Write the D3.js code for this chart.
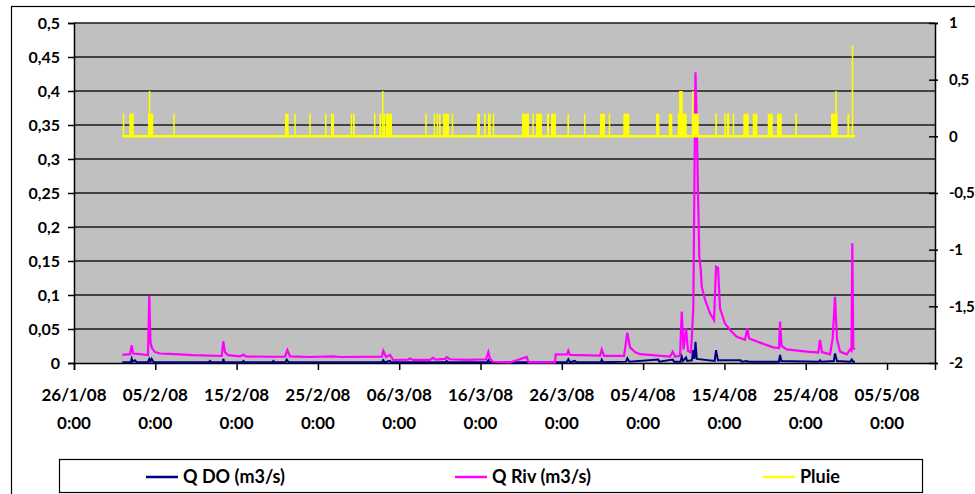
<!DOCTYPE html>
<html>
<head>
<meta charset="utf-8">
<script src="https://cdn.jsdelivr.net/npm/d3@7"></script>
<style>
  body { margin: 0; background: #fff; }
  svg { display: block; font-family: Lato, "Open Sans", sans-serif; font-weight: bold; }
</style>
</head>
<body>
<svg id="chart" width="975" height="494"></svg>
<script>
// days counted from 26/1/08 0:00
const startDate = Date.UTC(2008, 0, 26);
const tickDays = [0, 10, 20, 30, 40, 50, 60, 70, 80, 90, 100];
const leftTicks = [0, 0.05, 0.1, 0.15, 0.2, 0.25, 0.3, 0.35, 0.4, 0.45, 0.5];
const rightTicks = [-2, -1.5, -1, -0.5, 0, 0.5, 1];
const seriesNames = ['Q DO (m3/s)', 'Q Riv (m3/s)', 'Pluie'];

// Q Riv (m3/s): [day, value]
const qRiv = [
  [5.94, 0.012], [6.89, 0.013], [7.10, 0.026], [7.26, 0.014], [8.12, 0.013], [9.10, 0.0118],
  [9.26, 0.0985], [9.41, 0.03], [9.59, 0.022], [9.96, 0.016], [10.58, 0.014], [11.81, 0.0135],
  [14.64, 0.0115], [18.17, 0.0103], [18.36, 0.032], [18.57, 0.016], [18.94, 0.0115],
  [20.42, 0.0098], [20.82, 0.012], [21.16, 0.0098], [23.70, 0.0092], [25.95, 0.0095],
  [26.24, 0.019], [26.57, 0.0098], [29.03, 0.0088], [31.86, 0.0098], [32.72, 0.0088],
  [37.85, 0.0093], [38.04, 0.018], [38.38, 0.009], [38.87, 0.012], [39.27, 0.0044],
  [41.08, 0.005], [41.33, 0.0065], [41.70, 0.0045], [43.79, 0.0046], [44.16, 0.0075],
  [44.53, 0.005], [45.63, 0.006], [45.84, 0.0085], [46.25, 0.0055], [48.30, 0.0045],
  [50.68, 0.0055], [50.96, 0.016], [51.17, 0.006], [51.54, 0.0018], [53.63, 0.0008],
  [55.68, 0.009], [55.9, 0.001], [59.16, 0.001], [59.25, 0.0128], [60.64, 0.0125],
  [60.80, 0.018], [61.0, 0.012], [64.70, 0.011], [64.91, 0.020], [65.19, 0.0105],
  [67.65, 0.0105], [68.06, 0.0446], [68.39, 0.023], [69.0, 0.016], [69.62, 0.013],
  [73.31, 0.0093], [73.64, 0.0167], [73.92, 0.0095], [74.54, 0.0105], [74.75, 0.0755],
  [74.97, 0.02], [75.28, 0.051], [75.52, 0.018], [75.89, 0.015], [76.17, 0.081],
  [76.44, 0.4275], [76.63, 0.333], [76.75, 0.25], [76.84, 0.20], [76.91, 0.156],
  [77.09, 0.137], [77.21, 0.112], [77.62, 0.093], [78.23, 0.073], [78.72, 0.063],
  [78.97, 0.1417], [79.21, 0.14], [79.46, 0.08], [80.07, 0.058], [80.69, 0.0485],
  [81.51, 0.0387], [82.53, 0.034], [82.82, 0.051], [83.03, 0.036], [84.38, 0.030],
  [86.01, 0.023], [86.72, 0.022], [86.84, 0.0608], [87.02, 0.025], [87.66, 0.020],
  [90.12, 0.0167], [91.55, 0.0155], [91.76, 0.034], [92.0, 0.016], [92.99, 0.0128],
  [93.32, 0.037], [93.60, 0.0975], [93.85, 0.035], [94.22, 0.0167], [95.04, 0.0128],
  [95.45, 0.02], [95.63, 0.018], [95.73, 0.176], [95.85, 0.0216], [96.06, 0.02]
];

// Q DO (m3/s): [day, value]
const qDo = [
  [5.94, 0.001], [7.0, 0.001], [7.10, 0.006], [7.2, 0.002], [7.5, 0.004], [7.7, 0.001],
  [9.1, 0.001], [9.26, 0.006], [9.4, 0.002], [9.55, 0.006], [9.8, 0.001], [16.6, 0.001],
  [16.73, 0.003], [16.9, 0.001], [18.3, 0.001], [18.36, 0.006], [18.5, 0.001],
  [20.7, 0.001], [20.83, 0.003], [21.0, 0.001], [24.4, 0.001], [24.52, 0.003], [24.7, 0.001],
  [26.0, 0.001], [26.16, 0.005], [26.4, 0.001], [37.9, 0.001], [38.04, 0.004], [38.2, 0.001],
  [38.87, 0.003], [39.0, 0.001], [45.7, 0.001], [45.84, 0.003], [46.0, 0.001],
  [50.8, 0.001], [50.96, 0.004], [51.1, 0.001], [60.6, 0.001], [60.80, 0.0054], [61.0, 0.001],
  [61.6, 0.003], [61.8, 0.001], [64.8, 0.001], [64.91, 0.005], [65.1, 0.001],
  [67.9, 0.002], [68.06, 0.007], [68.3, 0.002], [71.87, 0.005], [72.0, 0.002],
  [73.64, 0.005], [73.8, 0.002], [74.6, 0.002], [74.75, 0.0093], [74.9, 0.003],
  [75.28, 0.008], [75.4, 0.003], [76.0, 0.004], [76.17, 0.019], [76.3, 0.006],
  [76.44, 0.031], [76.6, 0.006], [78.8, 0.003], [78.97, 0.019], [79.2, 0.004],
  [82.0, 0.004], [82.1, 0.002], [82.74, 0.003], [82.9, 0.002], [86.7, 0.002],
  [86.84, 0.0118], [87.0, 0.003], [91.6, 0.002], [91.76, 0.004], [91.9, 0.002],
  [93.45, 0.003], [93.60, 0.014], [93.85, 0.003], [95.5, 0.002], [95.66, 0.005],
  [95.85, 0.002], [96.06, 0.002]
];

// Pluie: [start day, end day, value] on right axis, zero otherwise
const pluieSpan = [5.94, 96.06];
const pluie = [
  [6.0, 6.1, 0.2], [6.8, 7.35, 0.2], [9.1, 9.75, 0.2], [9.2, 9.28, 0.4], [12.2, 12.33, 0.2],
  [25.95, 26.4, 0.2], [27.1, 27.22, 0.2], [28.94, 29.11, 0.2], [30.87, 31.03, 0.2],
  [31.61, 31.98, 0.2], [34.03, 34.19, 0.2], [34.32, 34.53, 0.2], [36.9, 37.06, 0.2],
  [37.55, 37.8, 0.2], [37.88, 38.04, 0.4], [38.04, 38.29, 0.2], [38.38, 39.11, 0.2],
  [43.21, 43.38, 0.2], [44.24, 44.4, 0.2], [44.61, 44.77, 0.2], [44.9, 45.1, 0.2],
  [45.39, 46.13, 0.2], [46.46, 46.58, 0.2], [49.57, 49.94, 0.2], [50.43, 50.64, 0.2],
  [50.92, 51.25, 0.2], [51.5, 51.62, 0.2], [55.1, 55.97, 0.2], [56.37, 56.54, 0.2],
  [56.83, 57.56, 0.2], [58.18, 58.42, 0.2], [58.67, 59.29, 0.2], [60.68, 60.89, 0.2],
  [62.73, 62.89, 0.2], [64.7, 65.31, 0.2], [65.77, 65.93, 0.2], [67.56, 68.3, 0.2],
  [71.59, 72.0, 0.2], [73.15, 73.59, 0.2], [74.26, 75.36, 0.2], [74.42, 74.87, 0.4],
  [75.98, 76.84, 0.2], [76.01, 76.17, 0.4], [78.88, 79.09, 0.2], [79.99, 80.16, 0.2],
  [80.28, 80.6, 0.2], [81.02, 81.14, 0.2], [82.32, 82.99, 0.2], [83.48, 84.05, 0.2],
  [85.33, 85.94, 0.2], [86.47, 87.05, 0.2], [88.72, 88.93, 0.2], [93.11, 93.93, 0.2],
  [93.64, 93.76, 0.4], [95.12, 95.36, 0.2], [95.66, 95.78, 0.8]
];

const colors = ['#000080', '#ff00ff', '#ffff00'];
const toDate = d => new Date(startDate + d * 864e5);

const svg = d3.select('#chart');
const plot = { left: 74, right: 935, top: 23, bottom: 363 };

const x = d3.scaleUtc().domain([toDate(0), toDate(105.9)]).range([plot.left, plot.right]);
const y = d3.scaleLinear().domain([0, 0.5]).range([plot.bottom, plot.top]);
const y2 = d3.scaleLinear().domain([-2, 1]).range([plot.bottom, plot.top]);

// outer chart border
svg.append('rect').attr('x', 11.5).attr('y', 6.5).attr('width', 990).attr('height', 520)
  .attr('fill', '#fff').attr('stroke', '#000').attr('stroke-width', 1.2);

svg.append('rect').attr('x', plot.left).attr('y', plot.top)
  .attr('width', plot.right - plot.left).attr('height', plot.bottom - plot.top)
  .attr('fill', '#c0c0c0');

// gridlines
svg.append('g').selectAll('line').data(leftTicks.slice(1)).join('line')
  .attr('x1', plot.left).attr('x2', plot.right)
  .attr('y1', d => y(d)).attr('y2', d => y(d))
  .attr('stroke', '#1a1a1a').attr('stroke-width', 1.6);

const fmtY = d => String(d).replace('.', ',');

const gLeft = svg.append('g').attr('transform', `translate(${plot.left},0)`)
  .call(d3.axisLeft(y).tickValues(leftTicks).tickFormat(fmtY).tickSize(6).tickPadding(8));
const gRight = svg.append('g').attr('transform', `translate(${plot.right},0)`)
  .call(d3.axisRight(y2).tickValues(rightTicks).tickFormat(fmtY).tickSize(3).tickPadding(11));
gRight.selectAll('.tick line').attr('x1', -6);
const gBottom = svg.append('g').attr('transform', `translate(0,${plot.bottom})`)
  .call(d3.axisBottom(x).tickValues(tickDays.map(toDate)).tickSize(7).tickFormat(''));

[gLeft, gRight, gBottom].forEach(g => {
  g.select('.domain').attr('stroke', '#000').attr('stroke-width', 1.5);
  g.selectAll('.tick line').attr('stroke', '#000').attr('stroke-width', 1.5);
  g.selectAll('text').attr('fill', '#000').attr('font-size', 16).attr('font-weight', 'bold')
    .attr('font-family', 'Lato, sans-serif');
});
gRight.selectAll('text').attr('font-size', 15).attr('letter-spacing', -0.3);

const fmtX = d3.utcFormat('%d/%-m/%y');
const xl = svg.append('g').selectAll('text').data(tickDays).join('text')
  .attr('x', d => x(toDate(d))).attr('text-anchor', 'middle')
  .attr('font-size', 17);
xl.append('tspan').attr('x', d => x(toDate(d))).attr('y', 401).text(d => fmtX(toDate(d)));
xl.append('tspan').attr('x', d => x(toDate(d))).attr('y', 429).text('0:00');

// series
const line = d3.line().x(d => x(toDate(d[0]))).y(d => y(d[1]));
svg.append('path').datum(qDo).attr('d', line)
  .attr('fill', 'none').attr('stroke', colors[0]).attr('stroke-width', 2);
svg.append('path').datum(qRiv).attr('d', line)
  .attr('fill', 'none').attr('stroke', colors[1]).attr('stroke-width', 2.2);

svg.append('line')
  .attr('x1', x(toDate(pluieSpan[0]))).attr('x2', x(toDate(pluieSpan[1])))
  .attr('y1', y2(0)).attr('y2', y2(0))
  .attr('stroke', colors[2]).attr('stroke-width', 2.5);
svg.append('g').selectAll('rect').data(pluie).join('rect')
  .attr('x', d => x(toDate(d[0])))
  .attr('width', d => Math.max(1.5, x(toDate(d[1])) - x(toDate(d[0]))))
  .attr('y', d => y2(d[2]))
  .attr('height', d => y2(0) - y2(d[2]))
  .attr('fill', colors[2]);

// legend
svg.append('rect').attr('x', 59.5).attr('y', 459.5).attr('width', 863).attr('height', 33)
  .attr('fill', '#fff').attr('stroke', '#000').attr('stroke-width', 1.2);
const legendX = [146, 455, 763];
const leg = svg.append('g').selectAll('g').data(seriesNames).join('g')
  .attr('transform', (d, i) => `translate(${legendX[i]},477)`);
leg.append('line').attr('x1', 0).attr('x2', 32)
  .attr('stroke', (d, i) => colors[i]).attr('stroke-width', 2.5);
leg.append('text').attr('x', 37).attr('dy', '0.35em').attr('font-size', 18).text(d => d);
</script>
</body>
</html>
